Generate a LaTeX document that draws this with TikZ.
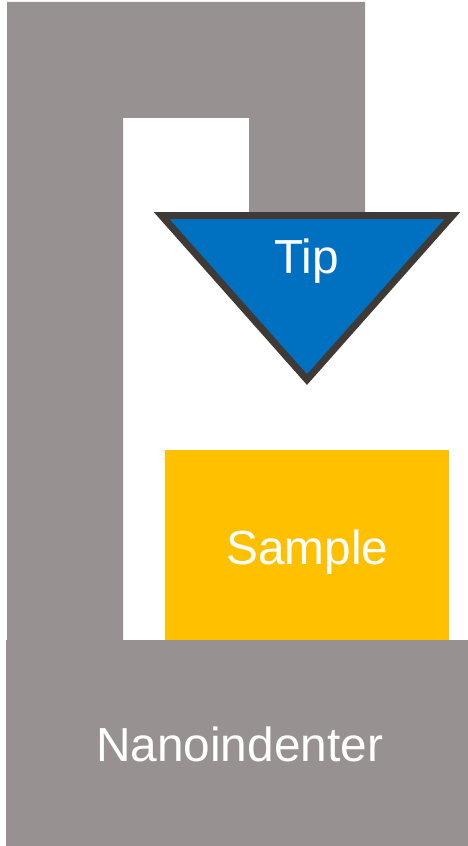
\documentclass[tikz,border=0pt]{standalone}
\usepackage{fontspec}
\setmainfont{Liberation Sans}
\usetikzlibrary{positioning,calc}
\definecolor{framegrey}{HTML}{989191}
\definecolor{tipblue}{HTML}{0070C0}
\definecolor{tipedge}{HTML}{403A36}
\definecolor{sampleyellow}{HTML}{FFC000}
\tikzset{
  % stativ
  framepart/.style={fill=framegrey,draw=none},
  basebox/.style={fill=framegrey,draw=none,inner sep=0pt,minimum width=11.55cm,minimum height=5.15cm},
  samplebox/.style={fill=sampleyellow,draw=none,inner sep=0pt,minimum width=7.1cm,minimum height=4.75cm},
  tipshape/.style={fill=tipblue,draw=tipedge,line width=5pt,miter limit=10},
  lbl/.style={text=white,inner sep=0pt,anchor=base,font=\fontsize{34}{40}\selectfont},
}
\begin{document}
\begin{tikzpicture}
\useasboundingbox (0,0) rectangle (11.7,21.15);
  \fill[white] (0,0) rectangle (11.7,21.15);
  \fill[framepart] (0.175,5.15) -- (0.175,21.1) -- (9.125,21.1) -- (9.125,15.85)
    -- (6.225,15.85) -- (6.225,18.2) -- (3.075,18.2) -- (3.075,5.15) -- cycle;
  \node[basebox,anchor=south west] (base) at (0.15,0) {};
  \node[samplebox,anchor=south west] (sample) at (4.125,5.15) {};
  \coordinate (tl) at (4.04,15.76);
  \coordinate (tr) at (11.31,15.76);
  \coordinate (apex) at (7.675,11.66);
  \draw[tipshape] (tl) -- (tr) -- (apex) -- cycle;
  \node[lbl] (tiplabel) at (7.67,14.3) {Tip};
  \node[lbl] (samplelabel) at (7.68,7.03) {Sample};
  \node[lbl] (baselabel) at (5.99,2.1) {Nanoindenter};
\end{tikzpicture}
\end{document}
